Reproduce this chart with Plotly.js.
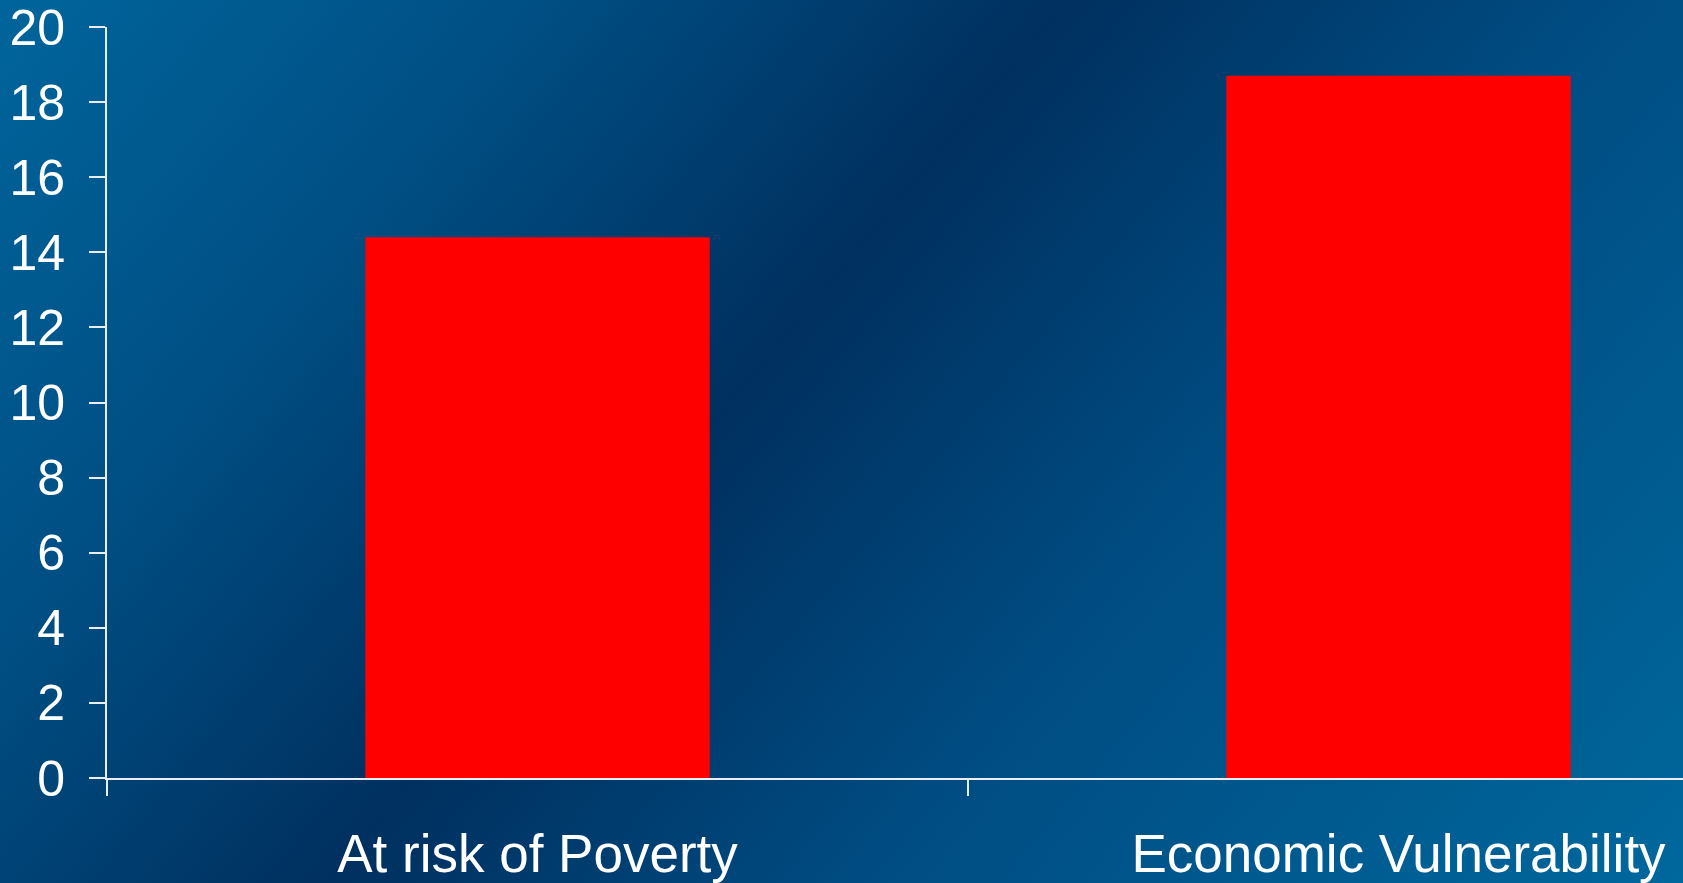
<!DOCTYPE html>
<html>
<head>
<meta charset="utf-8">
<script src="https://cdn.plot.ly/plotly-3.0.1.min.js"></script>
<style>
html, body { margin: 0; padding: 0; width: 1683px; height: 883px; overflow: hidden; }
body { background: linear-gradient(130deg, #00659c 0%, #004f84 22%, #00305f 44%, #004c82 66%, #00689d 100%); }
#chart { width: 1683px; height: 883px; }
</style>
</head>
<body>
<div id="chart"></div>
<script>
const categories = ["At risk of Poverty", "Economic Vulnerability"];
const values = [14.4, 18.7];
const yTicks = [0, 2, 4, 6, 8, 10, 12, 14, 16, 18, 20];

const trace = {
  type: "bar",
  x: categories,
  y: values,
  marker: { color: "#ff0000", line: { width: 0 } },
  hoverinfo: "x+y"
};

const layout = {
  width: 1683,
  height: 883,
  margin: { l: 107, r: 0, t: 27, b: 105 },
  paper_bgcolor: "rgba(0,0,0,0)",
  plot_bgcolor: "rgba(0,0,0,0)",
  bargap: 0.6,
  showlegend: false,
  font: { family: "Liberation Sans, Arial, sans-serif", color: "#ffffff" },
  xaxis: {
    type: "category",
    range: [-0.5, 1.3304],
    tickson: "boundaries",
    ticks: "outside",
    ticklen: 16,
    tickwidth: 2,
    tickcolor: "#e8eef4",
    showline: true,
    linecolor: "#e8eef4",
    linewidth: 2,
    showgrid: false,
    zeroline: false,
    ticklabelstandoff: 28,
    ticklabeloverflow: "allow",
    tickfont: { size: 53, color: "#ffffff" }
  },
  yaxis: {
    range: [0, 20],
    tickvals: yTicks,
    ticktext: yTicks.map(String),
    ticks: "outside",
    ticklen: 16,
    tickwidth: 2,
    tickcolor: "#e8eef4",
    showline: true,
    linecolor: "#e8eef4",
    linewidth: 2,
    showgrid: false,
    zeroline: false,
    ticklabelstandoff: 14,
    ticklabeloverflow: "allow",
    tickfont: { size: 50, color: "#ffffff" }
  }
};

Plotly.newPlot("chart", [trace], layout, { displayModeBar: false, staticPlot: true });
</script>
</body>
</html>
